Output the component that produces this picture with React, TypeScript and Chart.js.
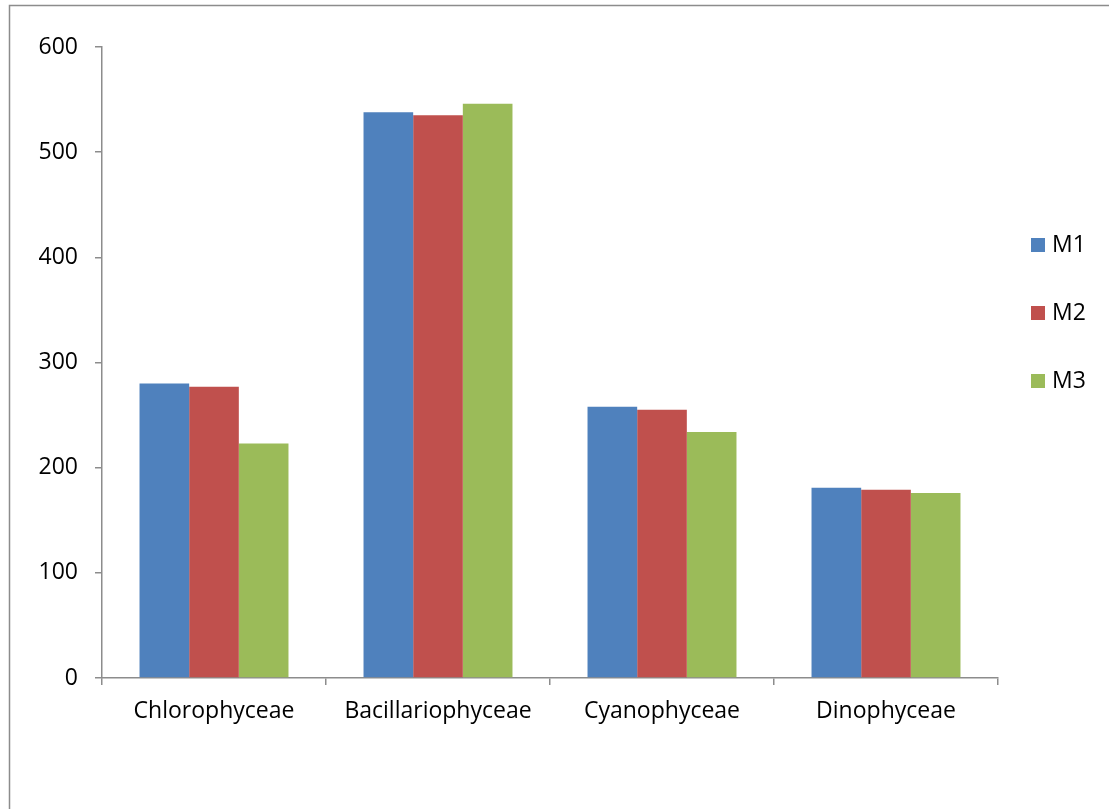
import React, { useEffect, useRef } from "react";
import { Chart, registerables } from "chart.js";

Chart.register(...registerables);

const categories = ["Chlorophyceae", "Bacillariophyceae", "Cyanophyceae", "Dinophyceae"];
const seriesNames = ["M1", "M2", "M3"];
const m1Values = [280, 538, 258, 181];
const m2Values = [277, 535, 255, 179];
const m3Values = [223, 546, 234, 176];
const seriesColors = ["#4F81BD", "#C0504D", "#9BBB59"];
const yTicks = [0, 100, 200, 300, 400, 500, 600];

const FONT = "'Open Sans', 'Noto Sans', sans-serif";
const AXIS_COLOR = "#8c8c8c";

export default function App() {
  const ref = useRef<HTMLCanvasElement | null>(null);

  useEffect(() => {
    if (!ref.current) return;
    const borderPlugin = {
      id: "outerBorder",
      beforeDraw(chart: any) {
        const ctx = chart.ctx;
        ctx.save();
        ctx.fillStyle = "#ffffff";
        ctx.fillRect(0, 0, chart.width, chart.height);
        ctx.strokeStyle = "#8c8c8c";
        ctx.lineWidth = 1.5;
        ctx.strokeRect(9.5, 5.5, chart.width + 20, chart.height + 50);
        ctx.restore();
      },
    };
    const legendPlugin = {
      id: "sideLegend",
      afterDraw(chart: any) {
        const ctx = chart.ctx;
        const area = chart.chartArea;
        ctx.save();
        ctx.font = `23px ${FONT}`;
        ctx.textBaseline = "middle";
        ctx.textAlign = "left";
        const x0 = area.right + 33;
        const yStart = 245;
        const gap = 68;
        chart.data.datasets.forEach((ds: any, i: number) => {
          const y = yStart + i * gap;
          ctx.fillStyle = ds.backgroundColor;
          ctx.fillRect(x0, y - 7, 14, 14);
          ctx.fillStyle = "#000000";
          ctx.fillText(ds.label, x0 + 21, y);
        });
        ctx.restore();
      },
    };
    const values = [m1Values, m2Values, m3Values];
    const chart = new Chart(ref.current, {
      type: "bar",
      data: {
        labels: categories,
        datasets: seriesNames.map((name, i) => ({
          label: name,
          data: values[i],
          backgroundColor: seriesColors[i],
          borderWidth: 0,
          categoryPercentage: 0.665,
          barPercentage: 1,
        })),
      },
      options: {
        responsive: false,
        animation: false,
        layout: { padding: { left: 0, top: 47, right: 111, bottom: 0 } },
        plugins: {
          legend: { display: false },
          tooltip: { enabled: false },
        },
        scales: {
          x: {
            afterFit(scale: any) {
              scale.height = 131;
            },
            grid: {
              offset: true,
              drawOnChartArea: false,
              drawTicks: true,
              tickLength: 7,
              color: AXIS_COLOR,
              lineWidth: 1.5,
            },
            border: { display: true, color: AXIS_COLOR, width: 1.5 },
            ticks: {
              color: "#000000",
              font: { family: FONT, size: 23 },
              padding: 13,
              maxRotation: 0,
            },
          },
          y: {
            min: 0,
            max: 600,
            afterFit(scale: any) {
              scale.width = 102;
            },
            afterBuildTicks(scale: any) {
              scale.ticks = yTicks.map((v) => ({ value: v }));
            },
            grid: {
              drawOnChartArea: false,
              drawTicks: true,
              tickLength: 7,
              color: AXIS_COLOR,
              lineWidth: 1.5,
            },
            border: { display: true, color: AXIS_COLOR, width: 1.5 },
            ticks: {
              color: "#000000",
              font: { family: FONT, size: 23 },
              padding: 17,
            },
          },
        },
      },
      plugins: [borderPlugin, legendPlugin],
    });
    return () => chart.destroy();
  }, []);

  return (
    <div style={{ position: "fixed", left: 0, top: 0, width: 1109, height: 809, background: "#fff" }}>
      <canvas ref={ref} width={1109} height={809} style={{ display: "block" }} />
    </div>
  );
}
